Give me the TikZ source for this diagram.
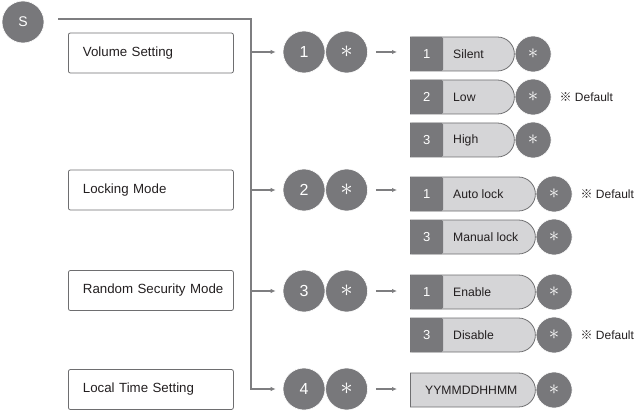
\documentclass[tikz,border=0pt]{standalone}
\usepackage{fontspec}
\setmainfont{Liberation Sans}
\newfontfamily\cjk{Noto Sans CJK SC}
\usetikzlibrary{positioning,arrows.meta,shapes.misc}

\definecolor{dotgray}{HTML}{78787B}
\definecolor{pillgray}{HTML}{D5D5D7}
\definecolor{edgegray}{HTML}{6E6E70}
\definecolor{linegray}{HTML}{7E7E80}
\definecolor{txtgray}{HTML}{231F20}

\begin{document}
\begin{tikzpicture}[
    x=1pt,y=-1pt,
    menu/.style={draw=edgegray,line width=0.8pt,rounded corners=2pt,anchor=west,minimum height=40pt,text width=136pt,inner xsep=14.5pt,align=left,text=txtgray,font=\fontsize{13.3}{15}\selectfont},
    bigdot/.style={circle,fill=dotgray,draw=white,line width=0.6pt,minimum size=42pt,inner sep=0pt,text=white,font=\fontsize{16}{16}\selectfont},
    smalldot/.style={circle,fill=dotgray,draw=white,line width=0.6pt,minimum size=36pt,inner sep=0pt,text=white,font=\fontsize{14}{14}\selectfont},
    bigstar/.style={bigdot,font=\fontsize{24}{24}\selectfont},
    smallstar/.style={smalldot,font=\fontsize{22}{22}\selectfont},
    pill/.style={rounded rectangle,rounded rectangle left arc=none,draw=edgegray,line width=0.8pt,fill=pillgray,anchor=west,minimum height=34pt,inner sep=0pt},
    num/.style={rectangle,rounded corners=1.5pt,fill=dotgray,anchor=west,minimum width=33pt,minimum height=34pt,inner sep=0pt,text=white,font=\fontsize{13}{13}\selectfont},
    opttext/.style={anchor=west,inner sep=0pt,text=txtgray,font=\fontsize{12.2}{14}\selectfont},
    dflt/.style={inner sep=0pt,text=txtgray,font=\fontsize{12}{14}\selectfont},
    link/.style={draw=linegray,line width=1.1pt,-{Latex[length=5pt,width=4.5pt]}},
  ]
    \useasboundingbox (0,0) rectangle (636,414);

    \node[bigdot,font=\fontsize{14}{14}\selectfont] (s) at (23,22) {S};

    % menu items
    \node[menu] (volume) at (68,53) {\mbox{Volume Setting}};
    \node[menu] (locking) at (68,190) {\mbox{Locking Mode}};
    \node[menu] (random) at (68,290.5) {\mbox{Random Security Mode}};
    \node[menu] (localtime) at (68,389.5) {\mbox{Local Time Setting}};

    % key presses
    \node[bigdot] (one) at (304,52) {1};
    \node[bigstar,right=0pt of one] (onestar) {$\ast$};
    \node[bigdot] (two) at (304,190) {2};
    \node[bigstar,right=0pt of two] (twostar) {$\ast$};
    \node[bigdot] (three) at (304,291) {3};
    \node[bigstar,right=0pt of three] (threestar) {$\ast$};
    \node[bigdot] (four) at (304,389) {4};
    \node[bigstar,right=0pt of four] (fourstar) {$\ast$};

    % trunk
    \coordinate (start) at (58,19);
    \coordinate (corner) at (251,19);
    \draw[link,shorten >=7pt] (start) -- (corner) |- (four);
    \draw[link,shorten >=7pt] (corner |- one) -- (one);
    \draw[link,shorten >=7pt] (corner |- two) -- (two);
    \draw[link,shorten >=7pt] (corner |- three) -- (three);

    % volume options
    \node[pill,minimum width=104pt] (silent) at (410,54) {};
    \node[num] (silentnum) at (silent.west) {1};
    \node[opttext] (silenttxt) at ([xshift=43pt]silent.west) {Silent};
    \node[smallstar,right=0pt of silent] (silentstar) {$\ast$};

    \node[pill,minimum width=104pt] (low) at (410,97) {};
    \node[num] (lownum) at (low.west) {2};
    \node[opttext] (lowtxt) at ([xshift=43pt]low.west) {Low};
    \node[smallstar,right=0pt of low] (lowstar) {$\ast$};
    \node[dflt,right=8pt of lowstar] (lowdef) {{\cjk ※} Default};

    \node[pill,minimum width=104pt] (high) at (410,140) {};
    \node[num] (highnum) at (high.west) {3};
    \node[opttext] (hightxt) at ([xshift=43pt]high.west) {High};
    \node[smallstar,right=0pt of high] (highstar) {$\ast$};

    % locking options
    \node[pill,minimum width=125pt] (auto) at (410,194) {};
    \node[num] (autonum) at (auto.west) {1};
    \node[opttext] (autotxt) at ([xshift=43pt]auto.west) {Auto lock};
    \node[smallstar,right=0pt of auto] (autostar) {$\ast$};
    \node[dflt,right=8pt of autostar] (autodef) {{\cjk ※} Default};

    \node[pill,minimum width=125pt] (manual) at (410,237) {};
    \node[num] (manualnum) at (manual.west) {3};
    \node[opttext] (manualtxt) at ([xshift=43pt]manual.west) {Manual lock};
    \node[smallstar,right=0pt of manual] (manualstar) {$\ast$};

    % random security options
    \node[pill,minimum width=125pt] (enable) at (410,292) {};
    \node[num] (enablenum) at (enable.west) {1};
    \node[opttext] (enabletxt) at ([xshift=43pt]enable.west) {Enable};
    \node[smallstar,right=0pt of enable] (enablestar) {$\ast$};

    \node[pill,minimum width=125pt] (disable) at (410,335) {};
    \node[num] (disablenum) at (disable.west) {3};
    \node[opttext] (disabletxt) at ([xshift=43pt]disable.west) {Disable};
    \node[smallstar,right=0pt of disable] (disablestar) {$\ast$};
    \node[dflt,right=8pt of disablestar] (disabledef) {{\cjk ※} Default};

    % local time entry
    \node[pill,minimum width=125pt] (datetime) at (410,390) {};
    \node[opttext] (datetimetxt) at ([xshift=15pt]datetime.west) {YYMMDDHHMM};
    \node[smallstar,right=0pt of datetime] (datetimestar) {$\ast$};

    \draw[link,shorten <=8pt,shorten >=13pt] (onestar) -- (onestar -| silent.west);
    \draw[link,shorten <=8pt,shorten >=13pt] (twostar) -- (twostar -| auto.west);
    \draw[link,shorten <=8pt,shorten >=13pt] (threestar) -- (threestar -| enable.west);
    \draw[link,shorten <=8pt,shorten >=13pt] (fourstar) -- (fourstar -| datetime.west);
  \end{tikzpicture}
\end{document}
